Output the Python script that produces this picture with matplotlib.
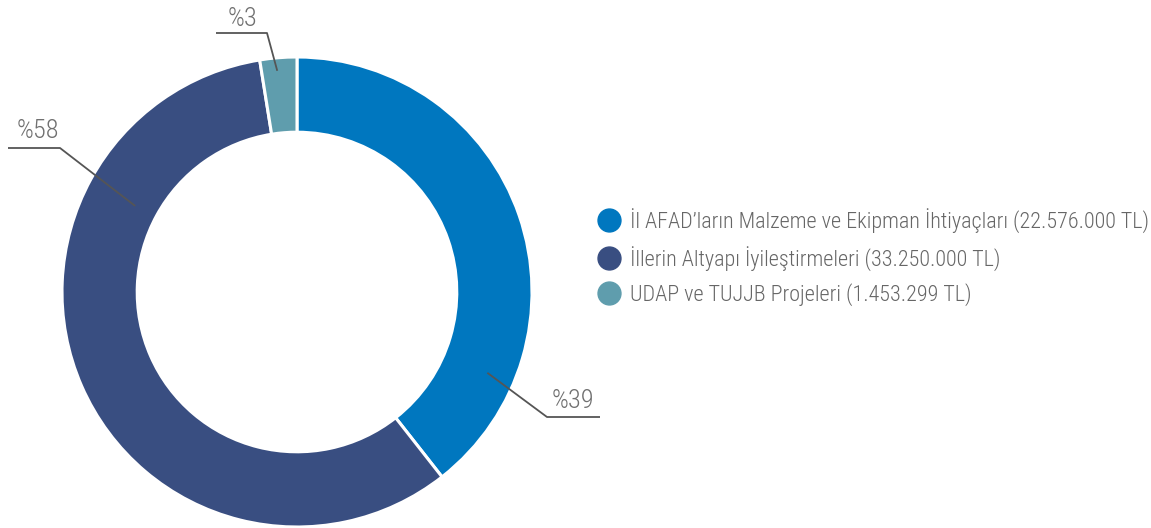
import matplotlib
matplotlib.use("Agg")
import matplotlib.pyplot as plt
from matplotlib.lines import Line2D
import numpy as np

plt.rcParams['font.family'] = ['Roboto Condensed', 'DejaVu Sans']
plt.rcParams['font.weight'] = 'light'

categories = ["İl AFAD’ların Malzeme ve Ekipman İhtiyaçları",
              "İllerin Altyapı İyileştirmeleri",
              "UDAP ve TUJJB Projeleri"]
amounts = [22576000, 33250000, 1453299]
amount_labels = ["22.576.000 TL", "33.250.000 TL", "1.453.299 TL"]
pct_labels = ["%39", "%58", "%3"]
colors = ["#0077BF", "#394E81", "#5F9DAD"]

W, H = 1151, 528
fig = plt.figure(figsize=(W / 100, H / 100), dpi=100)

cx, cy, R = 297, 292, 235
ax = fig.add_axes([(cx - R) / W, (H - cy - R) / H, 2 * R / W, 2 * R / H])
wedges, _ = ax.pie(amounts, colors=colors, startangle=90, counterclock=False,
                   radius=1.0, wedgeprops=dict(width=0.32, edgecolor="white", linewidth=2.2))
ax.set_xlim(-1, 1)
ax.set_ylim(-1, 1)
ax.set_aspect("equal")
ax.axis("off")

# overlay in pixel coordinates for leader lines
ov = fig.add_axes([0, 0, 1, 1], zorder=5)
ov.set_xlim(0, W)
ov.set_ylim(H, 0)
ov.axis("off")

label_styles = [
    dict(ang=113.0, r=0.88, elbow=(547, 417), end=(600, 417), txt=(573, 408)),
    dict(ang=298.0, r=0.78, elbow=(60, 148), end=(8, 148), txt=(38, 138)),
    dict(ang=354.9, r=0.945, elbow=(267, 33), end=(216, 33), txt=(243, 26)),
]
for lab, st in zip(pct_labels, label_styles):
    th = np.deg2rad(st["ang"])
    sx = cx + st["r"] * R * np.sin(th)
    sy = cy - st["r"] * R * np.cos(th)
    ov.plot([sx, st["elbow"][0], st["end"][0]], [sy, st["elbow"][1], st["end"][1]],
            color="#555555", lw=1.3, solid_capstyle="butt")
    ov.text(st["txt"][0], st["txt"][1], lab, ha="center", va="baseline",
            fontsize=19, color="#707070", fontweight="light")

handles = [Line2D([], [], marker="o", linestyle="none", markersize=16.5,
                  markerfacecolor=c, markeredgecolor=c) for c in colors]
labels = [f"{c} ({a})" for c, a in zip(categories, amount_labels)]
fig.legend(handles, labels, loc="upper left", bbox_to_anchor=(589 / W, 1 - 199 / H),
           frameon=False, labelcolor="#666666", handletextpad=0.42,
           labelspacing=0.58, borderaxespad=0, handlelength=1.05,
           prop=dict(weight="light", size=15.9))

fig.savefig("out.png", dpi=100)
